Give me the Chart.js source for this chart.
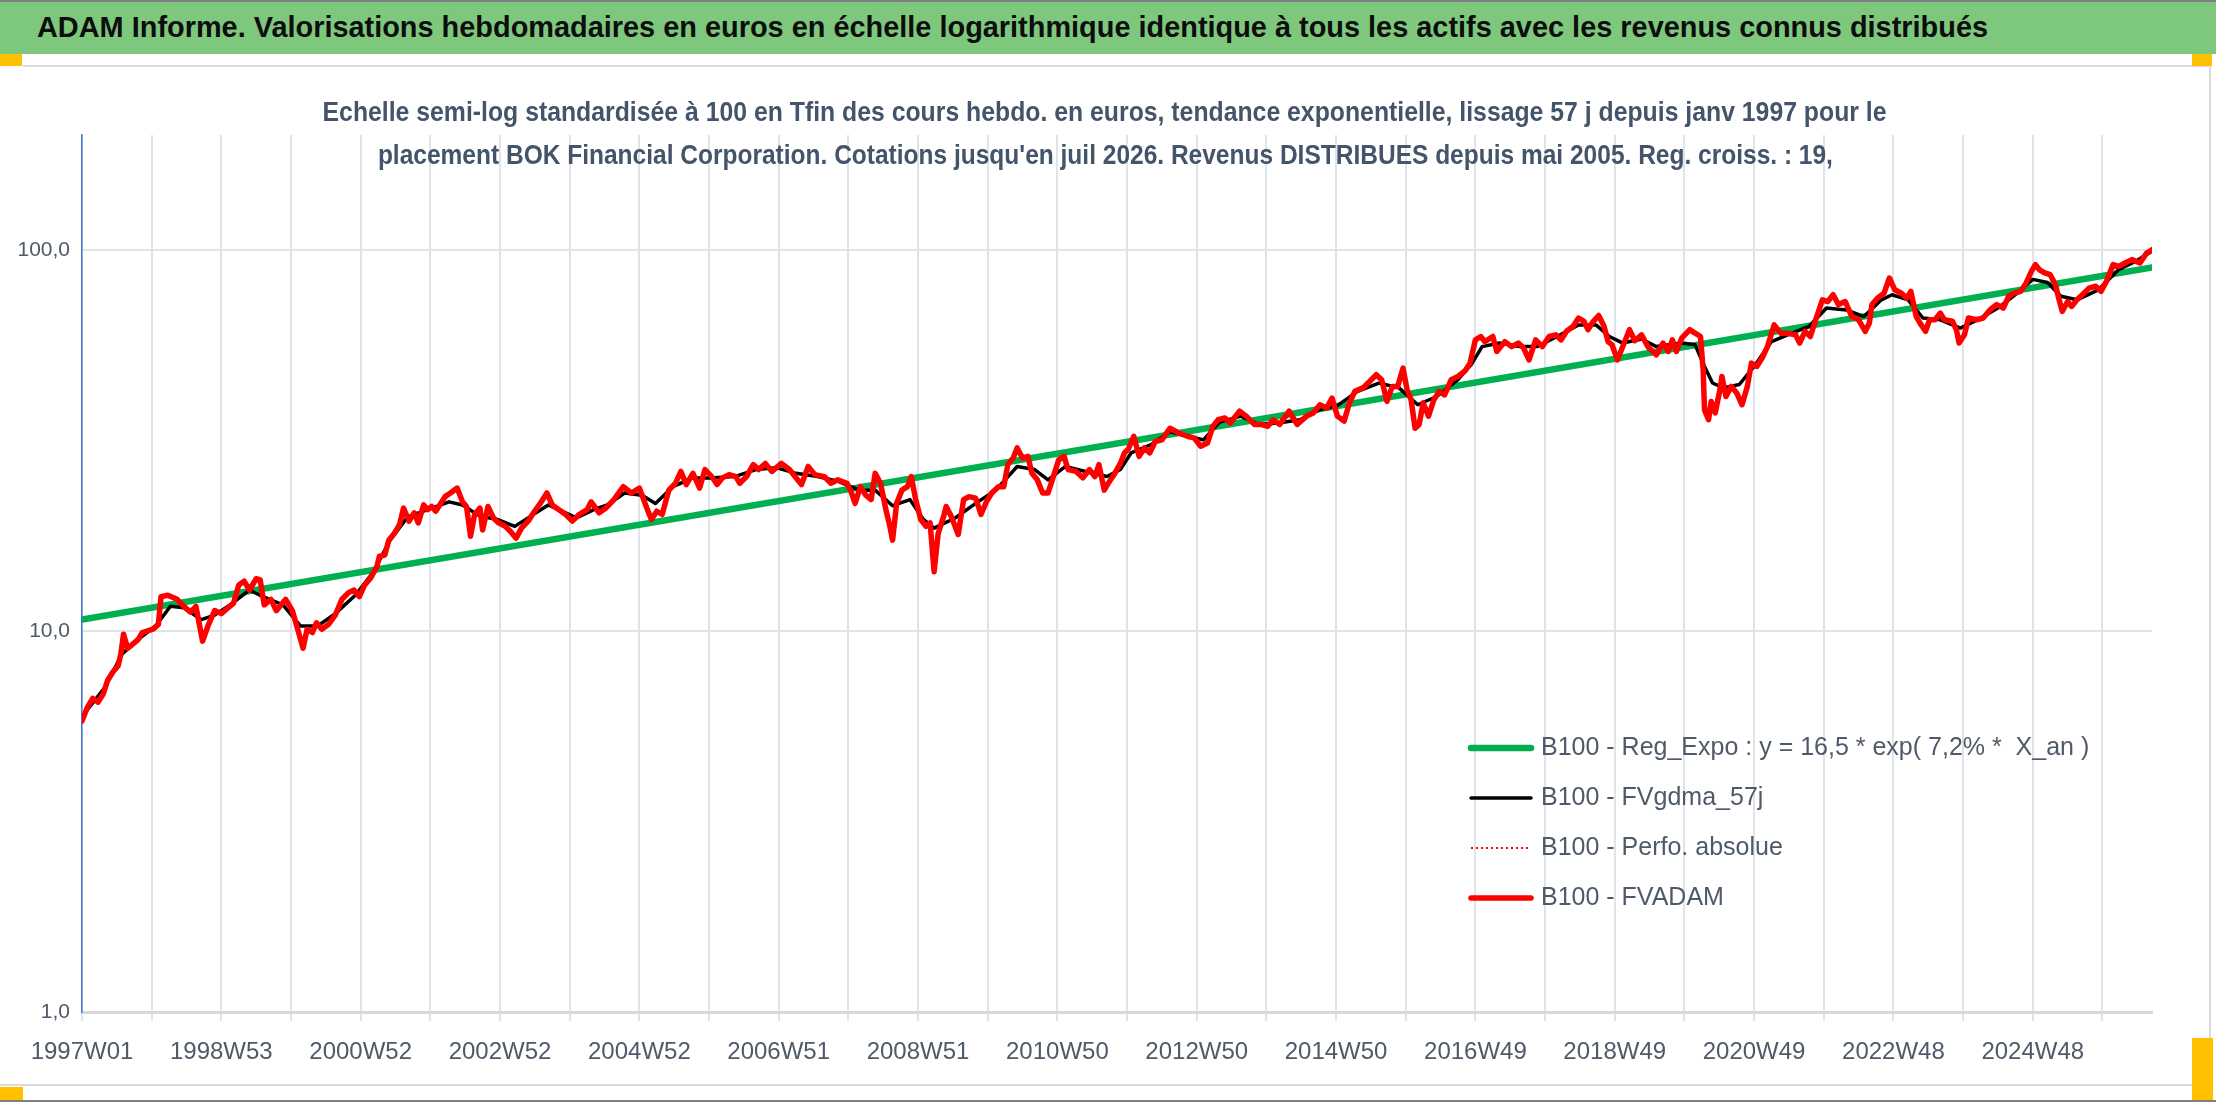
<!DOCTYPE html>
<html>
<head>
<meta charset="utf-8">
<script src="https://cdn.jsdelivr.net/npm/chart.js@4.4.1/dist/chart.umd.min.js"></script>
<style>
  body { margin: 0; width: 2216px; height: 1102px; overflow: hidden; background: #fff; position: relative;
    font-family: "Liberation Sans", Arial, sans-serif; }
  #titlebar { position: absolute; left: 0; top: 0; width: 2216px; height: 54px; box-sizing: border-box;
    background: #7ec87e; border-top: 2px solid #808080; white-space: nowrap; }
  #title { position: absolute; left: 37px; top: 0; display: inline-block; transform-origin: 0 50%;
    font-weight: bold; font-size: 30px; line-height: 50px; color: #0d0d0d; }
  .handle { position: absolute; background: #ffc000; }
  .rule { position: absolute; background: #dadada; }
  .sub { position: absolute; left: 0; width: 2210px; text-align: center; z-index: 2; white-space: nowrap; }
  .sub span { display: inline-block; transform-origin: 50% 50%;
    font-weight: bold; font-size: 27px; line-height: 40px; color: #44546a; }
  #chart { position: absolute; left: 0; top: 67px; }
</style>
</head>
<body>
<div id="titlebar"><span id="title">ADAM Informe. Valorisations hebdomadaires en euros en échelle logarithmique identique à tous les actifs avec les revenus connus distribués</span></div>
<div class="rule" style="left:23px;top:65px;width:2188px;height:2px"></div>
<div class="rule" style="left:2209px;top:65px;width:2px;height:1020px"></div>
<div class="rule" style="left:0;top:1084px;width:2192px;height:2px"></div>
<div class="rule" style="left:0;top:1100px;width:2216px;height:2px;background:#808080"></div>
<div class="handle" style="left:0;top:54px;width:22px;height:12px"></div>
<div class="handle" style="left:2192px;top:54px;width:20px;height:12px"></div>
<div class="handle" style="left:0;top:1087px;width:23px;height:13px"></div>
<div class="handle" style="left:2192px;top:1038px;width:21px;height:62px"></div>
<div class="sub" style="top:92px"><span id="sub1">Echelle semi-log standardisée à 100 en Tfin des cours hebdo. en euros, tendance exponentielle, lissage 57 j depuis janv 1997 pour le</span></div>
<div class="sub" style="top:135px"><span id="sub2">placement BOK Financial Corporation. Cotations jusqu'en juil 2026. Revenus DISTRIBUES depuis mai 2005. Reg. croiss. : 19,</span></div>
<canvas id="chart" width="2200" height="1018"></canvas>
<script>
// week index (0 = 1997W01) and value
const regPoints = [[0, 10.7], [1545, 89.9]];

const fvadamPoints = [
  [0,5.8],[4,6.3],[8,6.65],[12,6.5],[16,6.85],[19,7.4],[23,7.8],[27,8.1],[29,8.7],[31,9.8],[34,9.0],[39,9.3],[42,9.5],[45,9.9],[49,10.0],
  [53,10.1],[57,10.4],[59,12.3],[64,12.4],[71,12.1],[76,11.6],[81,11.2],[85,11.6],[90,9.4],[94,10.3],[99,11.3],[104,11.1],[109,11.5],
  [113,11.8],[117,13.2],[121,13.5],[125,12.8],[130,13.7],[133,13.6],[136,11.7],[141,12.1],[145,11.3],[152,12.1],[157,11.3],[161,10.1],
  [165,9.0],[168,10.1],[172,9.9],[175,10.5],[179,10.1],[184,10.4],[189,11.0],[194,12.1],[199,12.6],[203,12.8],[207,12.3],[211,13.2],
  [215,13.7],[220,14.7],[222,15.7],[226,15.8],[229,17.3],[233,18.0],[237,19.0],[240,21.0],[244,19.4],[248,20.4],[251,19.2],[255,21.4],
  [258,20.8],[261,21.2],[264,20.6],[267,21.4],[271,22.5],[275,23.0],[280,23.7],[284,21.8],[287,21.2],[290,17.7],[293,20.2],[297,21.0],
  [299,18.4],[303,21.2],[307,19.8],[311,19.2],[316,18.8],[320,18.2],[324,17.5],[328,18.6],[333,19.4],[337,20.4],[342,21.6],[347,23.0],
  [351,21.4],[356,20.8],[361,20.2],[366,19.4],[371,20.2],[377,20.8],[380,21.8],[386,20.4],[391,21.0],[397,22.1],[404,23.9],[410,23.0],
  [416,23.7],[422,20.8],[425,19.6],[429,20.6],[433,20.2],[438,23.4],[443,24.4],[447,26.2],[451,24.2],[456,25.9],[461,23.7],[465,26.5],
  [470,25.4],[474,24.2],[478,25.2],[483,25.7],[488,25.4],[491,24.4],[496,25.4],[501,27.3],[505,26.5],[510,27.5],[515,26.2],[522,27.5],
  [528,26.5],[535,24.7],[537,24.2],[542,27.0],[547,25.7],[554,25.4],[559,24.4],[564,24.9],[571,24.4],[574,23.2],[577,21.6],[581,23.9],
  [585,22.7],[589,22.1],[592,25.9],[596,24.4],[600,20.8],[603,18.8],[605,17.3],[608,21.6],[612,23.4],[616,23.9],[619,25.4],[622,22.3],
  [626,19.6],[630,18.8],[633,19.2],[636,14.3],[639,18.0],[643,19.9],[645,21.2],[649,19.9],[654,17.9],[658,22.1],[662,22.5],[667,22.3],
  [671,20.2],[675,21.8],[679,23.0],[684,23.9],[688,23.9],[691,27.3],[695,28.4],[698,30.2],[702,28.4],[706,28.7],[709,25.9],[713,24.9],
  [717,23.0],[721,23.0],[725,25.4],[729,28.1],[733,28.7],[736,26.5],[742,26.2],[747,25.2],[752,26.5],[756,25.4],[759,27.3],[763,23.4],
  [766,24.4],[770,25.6],[775,27.5],[778,29.3],[781,30.0],[785,32.4],[789,28.7],[793,30.2],[797,29.3],[801,31.4],[806,31.7],[812,34.0],
  [819,33.0],[825,32.4],[830,32.1],[835,30.5],[840,31.1],[844,34.4],[848,35.8],[853,36.2],[857,35.1],[864,37.7],[869,36.6],[875,34.8],
  [880,34.8],[885,34.4],[889,35.8],[894,34.8],[901,37.7],[907,34.8],[914,36.6],[919,37.3],[924,39.2],[929,38.4],[933,40.8],[937,36.6],
  [942,35.5],[946,39.6],[950,42.5],[956,43.4],[961,45.1],[966,47.0],[970,45.6],[974,40.0],[978,43.8],[982,43.8],[986,48.9],[989,42.9],
  [992,40.4],[995,34.0],[998,34.8],[1001,39.6],[1005,36.6],[1009,40.4],[1013,42.5],[1017,41.6],[1022,45.6],[1027,46.5],[1032,48.0],
  [1036,50.4],[1040,58.0],[1044,59.2],[1047,57.4],[1053,59.2],[1056,54.1],[1062,57.4],[1067,55.7],[1072,56.9],[1076,55.2],[1080,51.4],
  [1085,58.0],[1090,55.7],[1095,59.2],[1100,59.8],[1104,58.0],[1108,61.1],[1113,63.0],[1117,66.2],[1121,64.9],[1124,61.7],[1128,64.9],
  [1132,67.2],[1136,63.0],[1139,57.4],[1142,56.3],[1146,51.4],[1150,55.7],[1155,61.7],[1159,57.7],[1164,59.8],[1169,55.5],[1175,53.0],
  [1180,56.9],[1184,54.1],[1187,58.0],[1190,54.1],[1194,58.6],[1200,61.7],[1204,60.4],[1208,59.2],[1210,48.4],[1211,38.0],[1214,35.8],
  [1216,40.0],[1219,37.3],[1223,43.8],[1224,46.5],[1227,41.2],[1231,43.8],[1235,42.1],[1239,39.2],[1243,43.8],[1246,50.4],[1250,49.4],
  [1254,52.0],[1258,55.7],[1263,63.5],[1268,60.4],[1273,60.4],[1279,59.8],[1282,56.9],[1286,61.1],[1290,59.2],[1294,65.5],[1299,73.9],
  [1303,73.1],[1307,76.2],[1311,71.8],[1316,73.1],[1321,66.8],[1326,65.5],[1331,61.1],[1334,64.1],[1336,71.8],[1340,74.6],[1345,76.9],
  [1349,84.3],[1353,78.5],[1358,76.9],[1362,74.6],[1365,77.8],[1369,66.8],[1372,64.1],[1376,61.1],[1379,65.5],[1383,65.5],[1387,68.2],
  [1390,65.5],[1396,64.9],[1399,61.7],[1401,56.9],[1405,59.8],[1408,66.2],[1414,65.5],[1419,66.2],[1424,69.5],[1429,71.8],[1434,70.3],
  [1438,75.5],[1442,76.9],[1447,77.8],[1451,81.7],[1455,87.7],[1458,91.4],[1461,88.6],[1465,86.9],[1469,86.0],[1473,80.9],[1475,75.5],
  [1478,68.9],[1482,73.1],[1485,71.0],[1489,73.9],[1493,76.2],[1498,79.3],[1503,80.2],[1507,77.8],[1511,82.6],[1516,91.4],[1520,90.4],
  [1525,92.3],[1530,94.2],[1536,92.3],[1541,98.0],[1545,100.0]
];

const gdmaPoints = [
  [0,5.96],[17,7.1],[30,8.7],[42,9.5],[55,10.3],[66,11.6],[76,11.5],[89,10.7],[99,11.0],[112,11.8],[125,12.8],[135,12.3],[150,11.7],
  [163,10.3],[176,10.3],[189,11.1],[204,12.4],[217,14.2],[230,17.3],[243,19.9],[258,20.8],[274,21.8],[284,21.4],[297,20.0],[310,19.6],
  [323,18.8],[335,20.0],[348,21.4],[361,20.4],[369,19.8],[382,20.8],[392,21.4],[405,23.0],[418,22.7],[428,21.6],[441,23.9],[456,25.2],
  [469,25.2],[487,25.4],[503,26.5],[518,26.8],[533,25.9],[549,25.4],[564,24.7],[580,23.4],[592,23.4],[605,21.3],[618,22.1],[628,19.6],
  [636,18.6],[652,19.8],[667,21.6],[682,23.4],[698,27.0],[711,26.5],[721,24.9],[734,27.0],[749,26.2],[765,25.4],[775,26.5],[783,29.3],
  [798,30.8],[812,33.3],[826,32.4],[837,31.7],[849,35.3],[865,36.6],[878,34.8],[893,35.1],[909,35.8],[924,38.1],[937,39.0],[952,42.5],
  [968,44.7],[983,43.4],[997,39.2],[1011,41.2],[1027,45.6],[1037,50.0],[1045,55.7],[1058,56.9],[1073,55.7],[1086,55.7],[1101,59.2],
  [1117,63.5],[1130,63.5],[1140,59.2],[1150,56.9],[1164,58.3],[1175,55.7],[1194,56.9],[1204,56.3],[1211,49.4],[1217,44.7],[1225,43.4],
  [1237,44.3],[1248,49.4],[1261,57.4],[1273,59.8],[1289,62.9],[1302,70.3],[1317,69.5],[1330,66.8],[1343,73.9],[1351,76.2],[1363,73.9],
  [1374,66.2],[1387,65.5],[1402,62.3],[1415,65.5],[1430,70.3],[1443,76.2],[1456,83.6],[1467,82.0],[1477,75.5],[1489,73.9],[1505,78.5],
  [1520,88.6],[1533,93.3],[1545,99.2]
];

const xTickLabels = ['1997W01', '1998W53', '2000W52', '2002W52', '2004W52', '2006W51', '2008W51', '2010W50',
  '2012W50', '2014W50', '2016W49', '2018W49', '2020W49', '2022W48', '2024W48'];
const yTickValues = [1, 10, 100];
const yTickLabels = ['1,0', '10,0', '100,0'];

const lastWeek = 1545;
const gridStep = 52;
const labelStep = 104;
const fontFamily = '"Liberation Sans", Arial, sans-serif';
const axisColor = '#4f5a69';

// squeeze the header texts to the widths they have in the reference
function fitWidth(id, target) {
  const el = document.getElementById(id);
  const w = el.getBoundingClientRect().width;
  el.style.transform = 'scaleX(' + (target / w).toFixed(4) + ')';
}
fitWidth('title', 1951);
fitWidth('sub1', 1564);
fitWidth('sub2', 1455);

function toXY(points) {
  return points.map(p => ({ x: p[0], y: p[1] }));
}

// legend drawn inside the plot area, right side
const insideLegend = {
  id: 'insideLegend',
  afterDraw(chart) {
    const ctx = chart.ctx;
    ctx.save();
    ctx.font = '25px ' + fontFamily;
    ctx.textBaseline = 'middle';
    chart.data.datasets.forEach((ds, i) => {
      const y = 681 + i * 50;
      ctx.beginPath();
      ctx.strokeStyle = ds.borderColor;
      ctx.lineWidth = ds.borderWidth;
      ctx.setLineDash(ds.borderDash || []);
      ctx.lineCap = ds.borderDash ? 'butt' : 'round';
      ctx.moveTo(1471, y);
      ctx.lineTo(1531, y);
      ctx.stroke();
      ctx.setLineDash([]);
      ctx.fillStyle = axisColor;
      ctx.fillText(ds.label, 1541, y);
    });
    ctx.restore();
  }
};

const ctx = document.getElementById('chart').getContext('2d');
const chart = new Chart(ctx, {
  type: 'line',
  data: {
    datasets: [{
      label: 'B100 - Reg_Expo : y = 16,5 * exp( 7,2% *  X_an )',
      data: toXY(regPoints),
      borderColor: '#00b050',
      borderWidth: 6.5,
      order: 3
    }, {
      label: 'B100 - FVgdma_57j',
      data: toXY(gdmaPoints),
      borderColor: '#000000',
      borderWidth: 3.5,
      order: 2
    }, {
      label: 'B100 - Perfo. absolue',
      data: toXY(fvadamPoints),
      borderColor: '#ff0000',
      borderWidth: 2,
      borderDash: [2, 3],
      order: 1
    }, {
      label: 'B100 - FVADAM',
      data: toXY(fvadamPoints),
      borderColor: '#ff0000',
      borderWidth: 5.5,
      order: 0
    }]
  },
  options: {
    responsive: false,
    animation: false,
    layout: { padding: { left: 0, right: 48, top: 68, bottom: 0 } },
    elements: {
      point: { radius: 0 },
      line: { tension: 0, borderJoinStyle: 'round', borderCapStyle: 'round' }
    },
    plugins: {
      legend: { display: false },
      tooltip: { enabled: false },
      title: { display: false }
    },
    scales: {
      x: {
        type: 'linear',
        min: 0,
        max: lastWeek,
        afterBuildTicks(scale) {
          const ticks = [];
          for (let v = 0; v <= lastWeek; v += gridStep) ticks.push({ value: v });
          scale.ticks = ticks;
        },
        afterFit(scale) { scale.height = 73; },
        ticks: {
          autoSkip: false,
          maxRotation: 0,
          padding: 17,
          color: axisColor,
          font: { family: fontFamily, size: 24 },
          callback(v) { return v % labelStep === 0 ? xTickLabels[v / labelStep] : ''; }
        },
        grid: { color: '#dfe4ea', lineWidth: 2, drawTicks: true, tickLength: 9 },
        border: { color: '#d9d9d9', width: 3 }
      },
      y: {
        type: 'logarithmic',
        min: 1,
        max: 200,
        afterBuildTicks(scale) {
          scale.ticks = yTickValues.map(v => ({ value: v }));
        },
        afterFit(scale) { scale.width = 82; },
        ticks: {
          padding: 12,
          color: axisColor,
          font: { family: fontFamily, size: 21 },
          callback(v) {
            const i = yTickValues.indexOf(v);
            return i >= 0 ? yTickLabels[i] : '';
          }
        },
        grid: { color: '#dfe4ea', lineWidth: 2, drawTicks: false },
        border: { color: '#4472c4', width: 1.5 }
      }
    }
  },
  plugins: [insideLegend]
});
</script>
</body>
</html>
